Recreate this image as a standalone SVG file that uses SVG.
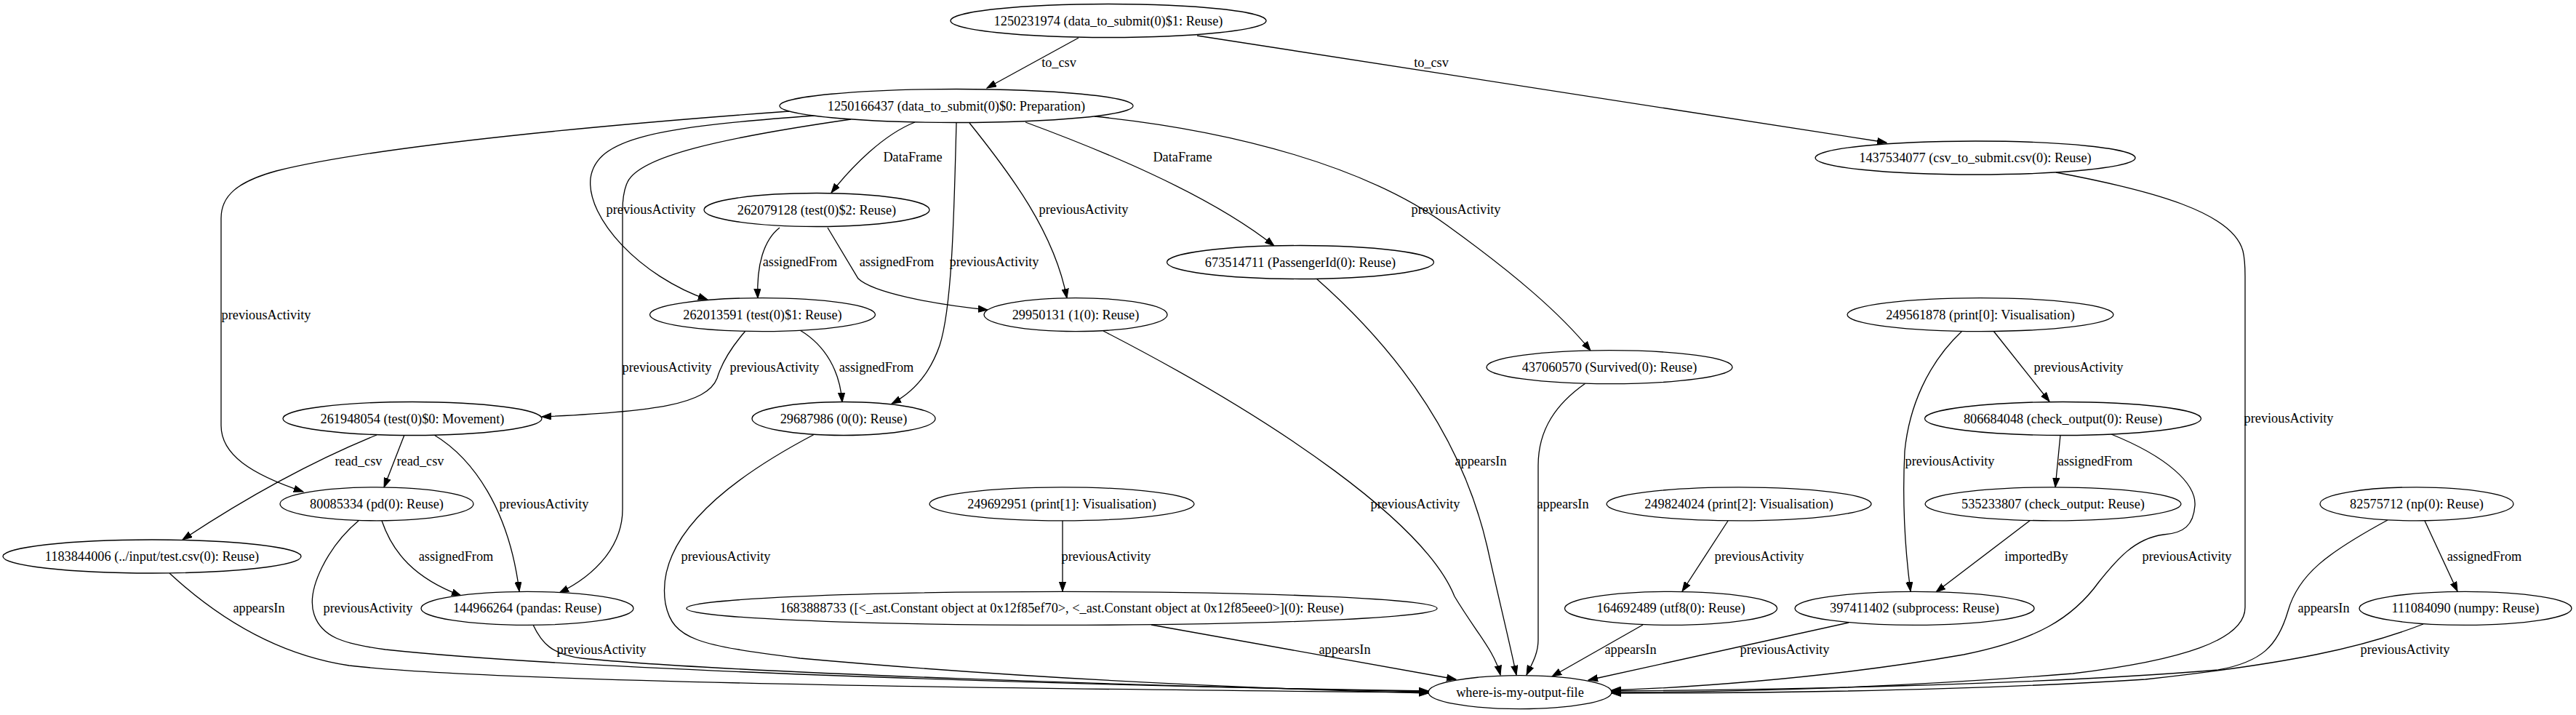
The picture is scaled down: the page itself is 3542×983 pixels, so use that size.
<svg xmlns="http://www.w3.org/2000/svg" width="3542" height="983" viewBox="0 0 3542 983">
<style>
.node ellipse{fill:#fff;stroke:#000;stroke-width:1.3}
text{font-family:"Liberation Serif","Times New Roman",serif;font-size:18.3px;text-anchor:middle;fill:#000}
.edges path{fill:none;stroke:#000;stroke-width:1.3;marker-end:url(#ah)}
</style>
<defs>
<marker id="ah" markerUnits="userSpaceOnUse" markerWidth="14" markerHeight="10" refX="13" refY="5" orient="auto">
<path d="M0,0.4 L13,5 L0,9.6 z" fill="#000" stroke="#000" stroke-width="1"/>
</marker>
</defs>
<rect width="3542" height="983" fill="#fff"/>
<g id="connectors" class="edges">
<path d="M1483,52 L1357,121"/>
<path d="M1646,49 L2594,196"/>
<path d="M1258,168 C1215,185 1172,228 1143,265"/>
<path d="M1410,168 C1510,205 1660,265 1752,338"/>
<path d="M1505,160 C1700,180 1880,230 1990,310 C2080,375 2145,430 2187,482"/>
<path d="M1333,169 C1390,240 1450,320 1467,410"/>
<path d="M1315,169 C1312,280 1310,420 1292,475 C1278,515 1255,540 1226,555"/>
<path d="M1120,159 C900,175 820,190 812,245 C806,300 880,380 973,412"/>
<path d="M1170,164 C990,190 880,215 863,250 C857,262 856,275 856,290 L856,700 C856,750 820,790 769,815"/>
<path d="M1085,153 C850,170 520,200 380,235 C325,250 304,270 304,300 L304,585 C304,625 345,652 417,676"/>
<path d="M1072,313 C1050,330 1040,365 1042,410"/>
<path d="M1138,313 L1180,383 C1200,402 1280,418 1358,426"/>
<path d="M1025,455 C1005,478 992,500 986,520 C972,556 900,566 745,573"/>
<path d="M1100,454 C1135,475 1155,510 1158,553"/>
<path d="M518,598 Q390,650 251,742"/>
<path d="M556,598 L528,670"/>
<path d="M597,598 C650,630 700,700 714,813"/>
<path d="M525,716 C540,760 570,795 634,819"/>
<path d="M494,715 C452,750 420,810 432,845 C442,875 470,885 530,893 C800,922 1500,943 1964,950"/>
<path d="M233,788 C300,850 380,900 480,915 C700,940 1500,948 1964,952"/>
<path d="M733,859 C745,885 760,900 800,905 C1000,925 1600,944 1964,951"/>
<path d="M1120,597 C1000,660 900,740 915,830 C925,880 960,887 1100,905 C1400,932 1700,946 1964,953"/>
<path d="M1517,455 C1760,580 1960,720 2000,820 C2030,870 2055,895 2063,928"/>
<path d="M1810,383 C1920,480 2010,600 2045,752 C2060,820 2075,880 2085,928"/>
<path d="M2180,527 C2140,555 2115,590 2115,640 L2115,880 C2115,900 2105,915 2099,928"/>
<path d="M1461,716 L1461,813"/>
<path d="M1583,859 L2002,934"/>
<path d="M2376,716 L2313,813"/>
<path d="M2259,859 L2134,930"/>
<path d="M2741,455 L2818,552"/>
<path d="M2698,455 C2650,500 2625,560 2619,620 C2615,700 2620,760 2627,813"/>
<path d="M2833,598 L2826,670"/>
<path d="M2792,715 L2662,814"/>
<path d="M2903,597 C2980,628 3020,665 3018,695 C3016,722 3003,733 2975,735 C2935,740 2910,770 2886,800 C2850,850 2800,880 2700,900 C2500,935 2300,946 2216,949"/>
<path d="M2542,856 L2184,935"/>
<path d="M2827,237 C2960,262 3070,292 3084,345 C3087,357 3087,368 3087,380 L3087,835 C3087,880 3000,908 2850,926 C2600,946 2400,951 2216,952"/>
<path d="M3334,716 L3379,813"/>
<path d="M3283,715 C3200,760 3160,790 3146,840 C3132,888 3110,910 3050,921 C2800,942 2400,949 2216,950"/>
<path d="M3332,858 C3250,890 3150,912 2950,934 C2700,950 2400,953 2216,953"/>
</g>
<g id="edge-labels">
<text x="1456" y="92">to_csv</text>
<text x="1968" y="92">to_csv</text>
<text x="1255" y="222">DataFrame</text>
<text x="1626" y="222">DataFrame</text>
<text x="2002" y="294">previousActivity</text>
<text x="1490" y="294">previousActivity</text>
<text x="1367" y="366">previousActivity</text>
<text x="895" y="294">previousActivity</text>
<text x="917" y="511">previousActivity</text>
<text x="366" y="439">previousActivity</text>
<text x="1100" y="366">assignedFrom</text>
<text x="1233" y="366">assignedFrom</text>
<text x="1065" y="511">previousActivity</text>
<text x="1205" y="511">assignedFrom</text>
<text x="493" y="640">read_csv</text>
<text x="578" y="640">read_csv</text>
<text x="748" y="699">previousActivity</text>
<text x="627" y="771">assignedFrom</text>
<text x="506" y="842">previousActivity</text>
<text x="356" y="842">appearsIn</text>
<text x="827" y="899">previousActivity</text>
<text x="998" y="771">previousActivity</text>
<text x="1946" y="699">previousActivity</text>
<text x="2036" y="640">appearsIn</text>
<text x="2149" y="699">appearsIn</text>
<text x="1521" y="771">previousActivity</text>
<text x="1849" y="899">appearsIn</text>
<text x="2419" y="771">previousActivity</text>
<text x="2242" y="899">appearsIn</text>
<text x="2858" y="511">previousActivity</text>
<text x="2681" y="640">previousActivity</text>
<text x="2881" y="640">assignedFrom</text>
<text x="2800" y="771">importedBy</text>
<text x="3007" y="771">previousActivity</text>
<text x="2454" y="899">previousActivity</text>
<text x="3147" y="581">previousActivity</text>
<text x="3416" y="771">assignedFrom</text>
<text x="3195" y="842">appearsIn</text>
<text x="3307" y="899">previousActivity</text>
</g>
<g id="n1250231974" class="node"><ellipse cx="1524" cy="28.5" rx="217" ry="23"/><text x="1524" y="34.5">1250231974 (data_to_submit(0)$1: Reuse)</text></g>
<g id="n1250166437" class="node"><ellipse cx="1315" cy="145.5" rx="243" ry="23"/><text x="1315" y="151.5">1250166437 (data_to_submit(0)$0: Preparation)</text></g>
<g id="n1437534077" class="node"><ellipse cx="2716" cy="217" rx="220" ry="23"/><text x="2716" y="223">1437534077 (csv_to_submit.csv(0): Reuse)</text></g>
<g id="n262079128" class="node"><ellipse cx="1123" cy="288.5" rx="155" ry="23"/><text x="1123" y="294.5">262079128 (test(0)$2: Reuse)</text></g>
<g id="n673514711" class="node"><ellipse cx="1788" cy="360.5" rx="183.5" ry="23"/><text x="1788" y="366.5">673514711 (PassengerId(0): Reuse)</text></g>
<g id="n262013591" class="node"><ellipse cx="1048.5" cy="432.6" rx="155" ry="23"/><text x="1048.5" y="438.6">262013591 (test(0)$1: Reuse)</text></g>
<g id="n29950131" class="node"><ellipse cx="1479" cy="432.6" rx="126" ry="23"/><text x="1479" y="438.6">29950131 (1(0): Reuse)</text></g>
<g id="n249561878" class="node"><ellipse cx="2723" cy="432.6" rx="183" ry="23"/><text x="2723" y="438.6">249561878 (print[0]: Visualisation)</text></g>
<g id="n437060570" class="node"><ellipse cx="2213" cy="504.7" rx="169" ry="23"/><text x="2213" y="510.7">437060570 (Survived(0): Reuse)</text></g>
<g id="n261948054" class="node"><ellipse cx="567" cy="575.5" rx="178" ry="23"/><text x="567" y="581.5">261948054 (test(0)$0: Movement)</text></g>
<g id="n29687986" class="node"><ellipse cx="1160" cy="575.5" rx="126" ry="23"/><text x="1160" y="581.5">29687986 (0(0): Reuse)</text></g>
<g id="n806684048" class="node"><ellipse cx="2836.5" cy="575.5" rx="190" ry="23"/><text x="2836.5" y="581.5">806684048 (check_output(0): Reuse)</text></g>
<g id="n80085334" class="node"><ellipse cx="518" cy="692.8" rx="133" ry="23"/><text x="518" y="698.8">80085334 (pd(0): Reuse)</text></g>
<g id="n249692951" class="node"><ellipse cx="1460" cy="692.8" rx="182" ry="23"/><text x="1460" y="698.8">249692951 (print[1]: Visualisation)</text></g>
<g id="n249824024" class="node"><ellipse cx="2391" cy="692.8" rx="182" ry="23"/><text x="2391" y="698.8">249824024 (print[2]: Visualisation)</text></g>
<g id="n535233807" class="node"><ellipse cx="2823" cy="692.8" rx="176" ry="23"/><text x="2823" y="698.8">535233807 (check_output: Reuse)</text></g>
<g id="n82575712" class="node"><ellipse cx="3323" cy="692.8" rx="133" ry="23"/><text x="3323" y="698.8">82575712 (np(0): Reuse)</text></g>
<g id="n1183844006" class="node"><ellipse cx="209" cy="765" rx="205" ry="23"/><text x="209" y="771">1183844006 (../input/test.csv(0): Reuse)</text></g>
<g id="n144966264" class="node"><ellipse cx="725" cy="836.4" rx="146" ry="23"/><text x="725" y="842.4">144966264 (pandas: Reuse)</text></g>
<g id="n1683888733" class="node"><ellipse cx="1460" cy="836.4" rx="516" ry="23"/><text x="1460" y="842.4">1683888733 ([&lt;_ast.Constant object at 0x12f85ef70&gt;, &lt;_ast.Constant object at 0x12f85eee0&gt;](0): Reuse)</text></g>
<g id="n164692489" class="node"><ellipse cx="2297.5" cy="836.4" rx="146" ry="23"/><text x="2297.5" y="842.4">164692489 (utf8(0): Reuse)</text></g>
<g id="n397411402" class="node"><ellipse cx="2632.5" cy="836.4" rx="164.5" ry="23"/><text x="2632.5" y="842.4">397411402 (subprocess: Reuse)</text></g>
<g id="n111084090" class="node"><ellipse cx="3390" cy="836.4" rx="146" ry="23"/><text x="3390" y="842.4">111084090 (numpy: Reuse)</text></g>
<g id="where-is-my-output-file" class="node"><ellipse cx="2090" cy="951.7" rx="126" ry="23"/><text x="2090" y="957.7">where-is-my-output-file</text></g>
</svg>
